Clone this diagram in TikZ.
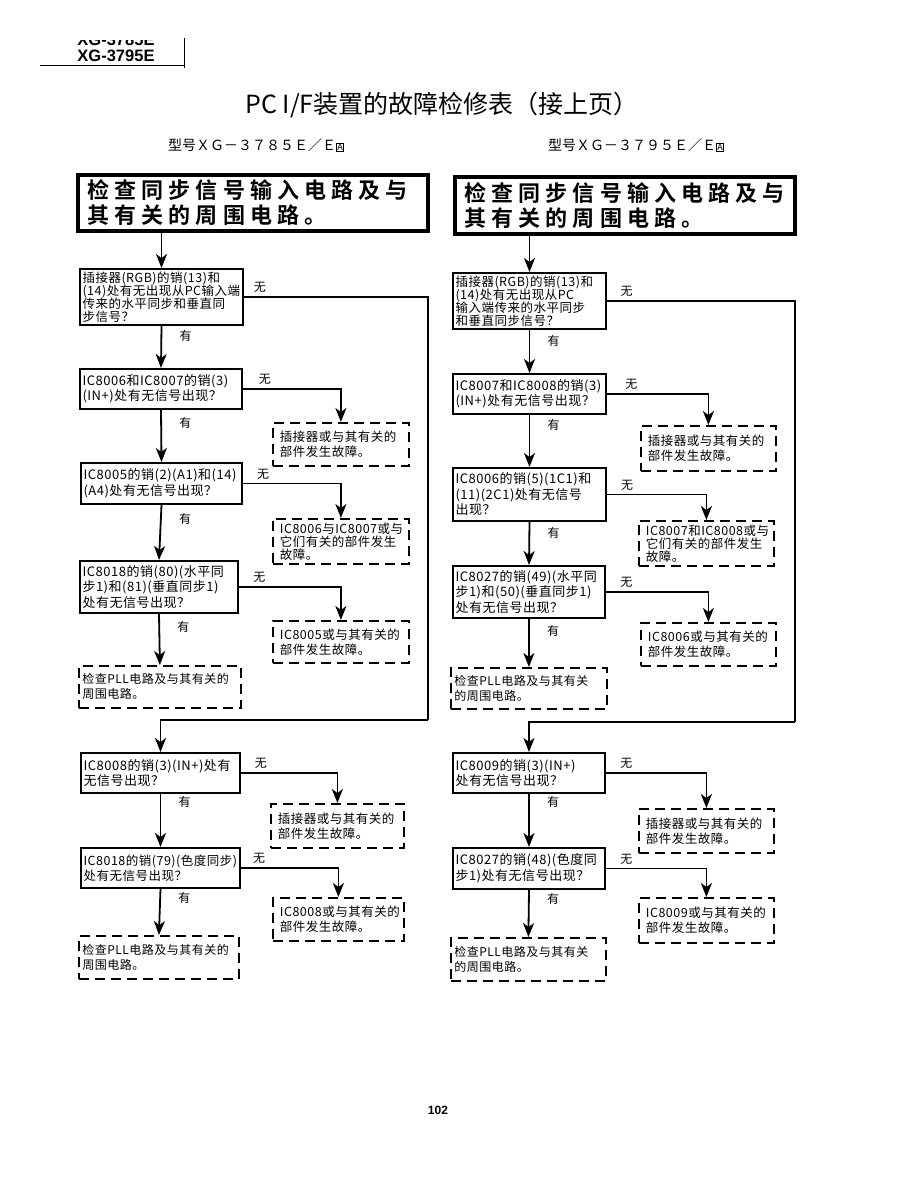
\documentclass[tikz,border=0pt]{standalone}
\usepackage{fontspec}
\setmainfont{Noto Sans CJK SC}
\newfontfamily\bigfont[LetterSpace=23, BoldFont={Noto Sans CJK SC Bold}]{Noto Sans CJK SC}
\newfontfamily\boxfont[LetterSpace=4]{Noto Sans CJK SC}
\newfontfamily\hdfont{Liberation Sans}
\usetikzlibrary{arrows.meta,positioning}

\newcommand{\boxA}{{\setlength\fboxsep{0.6pt}\setlength\fboxrule{0.6pt}\fbox{\fontsize{9}{9}\selectfont A}}}

\begin{document}
\begin{tikzpicture}[
  x=1pt, y=-1pt,
  topbox/.style={draw, line width=3.5pt, anchor=north west, align=left, inner xsep=10pt, inner ysep=5pt, font=\bigfont\bfseries\fontsize{22}{25}\selectfont},
  qbox/.style={draw, line width=2pt, anchor=north west, align=left, inner sep=2.5pt, font=\boxfont\fontsize{13}{15.5}\selectfont},
  fbox/.style={draw, line width=1.8pt, dash pattern=on 10pt off 6pt, anchor=north west, align=left, inner xsep=7pt, inner ysep=4pt, font=\boxfont\fontsize{12.5}{15}\selectfont},
  pllbox/.style={fbox, inner xsep=3.5pt, font=\boxfont\fontsize{12}{15}\selectfont},
  arr/.style={line width=1.8pt, -{Stealth[length=14pt, width=11pt, inset=4pt]}},
  yes/.style={right=14pt, font=\fontsize{12}{12}\selectfont},
  no/.style={above right, font=\fontsize{12}{12}\selectfont},
]
\useasboundingbox (0,0) rectangle (918,1188);

% header
\begin{scope}
  \clip (30,40.5) rectangle (200,75);
  \node[font=\hdfont\bfseries\fontsize{16.5}{18}\selectfont] (hdOld) at (116,40) {XG-3785E};
\end{scope}
\node[font=\hdfont\bfseries\fontsize{16.5}{18}\selectfont] (hdNew) at (116,56) {XG-3795E};
\draw[line width=1pt] (40,66) -- (184,66);
\draw[line width=1pt] (184,38) -- (184,68);

\node[font=\fontsize{25}{28}\selectfont] (title) at (442,105) {PC I/F装置的故障检修表（接上页）};
\node[font=\fontsize{14}{16}\selectfont] (modelL) at (256,145) {型号ＸＧ－３７８５Ｅ／Ｅ\boxA};
\node[font=\fontsize{14}{16}\selectfont] (modelR) at (636,145) {型号ＸＧ－３７９５Ｅ／Ｅ\boxA};

% left column
\node[topbox, text width=330pt, minimum height=55pt] (lTop) at (76,173) {检查同步信号输入电路及与\\其有关的周围电路。};
\node[qbox, text width=158pt, minimum height=55pt, font=\boxfont\fontsize{12.5}{13}\selectfont] (l1) at (79,268) {插接器(RGB)的销(13)和\\(14)处有无出现从PC输入端\\传来的水平同步和垂直同\\步信号？};
\node[qbox, text width=157pt, minimum height=40pt] (l2) at (79,368) {IC8006和IC8007的销(3)\\(IN+)处有无信号出现？};
\node[qbox, text width=156pt, minimum height=41pt] (l3) at (80,462) {IC8005的销(2)(A1)和(14)\\(A4)处有无信号出现？};
\node[qbox, text width=153pt, minimum height=52pt] (l4) at (79,560) {IC8018的销(80)(水平同\\步1)和(81)(垂直同步1)\\处有无信号出现？};
\node[fbox, text width=122pt, minimum height=43pt] (lf2) at (272,422) {插接器或与其有关的\\部件发生故障。};
\node[fbox, text width=122pt, minimum height=45pt, font=\boxfont\fontsize{12.5}{13}\selectfont] (lf3) at (272,518) {IC8006与IC8007或与\\它们有关的部件发生\\故障。};
\node[fbox, text width=122pt, minimum height=42pt] (lf4) at (272,620) {IC8005或与其有关的\\部件发生故障。};
\node[pllbox, text width=155pt, minimum height=42pt] (lp1) at (78,665) {检查PLL电路及与其有关的\\周围电路。};
\node[qbox, text width=154pt, minimum height=40pt] (l5) at (80,752) {IC8008的销(3)(IN+)处有\\无信号出现？};
\node[qbox, text width=154pt, minimum height=40pt, font=\boxfont\fontsize{12.5}{15.5}\selectfont] (l6) at (80,847) {IC8018的销(79)(色度同步)\\处有无信号出现？};
\node[fbox, text width=119pt, minimum height=44pt] (lf5) at (270,803) {插接器或与其有关的\\部件发生故障。};
\node[fbox, text width=117pt, minimum height=43pt] (lf6) at (272,897) {IC8008或与其有关的\\部件发生故障。};
\node[pllbox, text width=153pt, minimum height=43pt] (lp2) at (78,935) {检查PLL电路及与其有关的\\周围电路。};
\coordinate (loopL) at (428,720);

\draw[arr] (lTop.south -| l1.north) -- (l1.north);
\draw[arr] (l1.south) -- node[yes, pos=0.25] {有} (l2.north);
\draw[arr] (l2.south) -- node[yes, pos=0.25] {有} (l3.north);
\draw[arr] (l3.south) -- node[yes, pos=0.25] {有} (l4.north);
\draw[arr] (l4.south) -- node[yes, pos=0.25] {有} (lp1.north);
\draw[arr] (l5.south) -- node[yes, pos=0.15] {有} (l6.north);
\draw[arr] (l6.south) -- node[yes, pos=0.2] {有} (lp2.north);
\draw[line width=1.8pt] (l1.east) -- node[no, pos=0.03] {无} (l1.east -| loopL) -- (loopL);
\draw[arr] (loopL) -| (l5.north);
\draw[arr] (l2.east) -| node[no, pos=0.06] {无} (lf2.north);
\draw[arr] (l3.east) -| node[no, pos=0.05] {无} (lf3.north);
\draw[arr] (l4.east) -| node[no, pos=0.05] {无} (lf4.north);
\draw[arr] (l5.east) -| node[no, pos=0.05] {无} (lf5.north);
\draw[arr] (l6.east) -| node[no, pos=0.04] {无} (lf6.north);

% right column
\node[topbox, text width=320pt, minimum height=57pt] (rTop) at (453,175) {检查同步信号输入电路及与\\其有关的周围电路。};
\node[qbox, text width=148pt, minimum height=55pt, font=\boxfont\fontsize{12.5}{13}\selectfont] (r1) at (452,272) {插接器(RGB)的销(13)和\\(14)处有无出现从PC\\输入端传来的水平同步\\和垂直同步信号？};
\node[qbox, text width=148pt, minimum height=40pt] (r2) at (452,373) {IC8007和IC8008的销(3)\\(IN+)处有无信号出现？};
\node[qbox, text width=148pt, minimum height=53pt] (r3) at (452,467) {IC8006的销(5)(1C1)和\\(11)(2C1)处有无信号\\出现？};
\node[qbox, text width=147pt, minimum height=52pt] (r4) at (452,565) {IC8027的销(49)(水平同\\步1)和(50)(垂直同步1)\\处有无信号出现？};
\node[fbox, text width=121pt, minimum height=45pt] (rf2) at (640,425) {插接器或与其有关的\\部件发生故障。};
\node[fbox, text width=121pt, minimum height=45pt, font=\boxfont\fontsize{12.5}{13}\selectfont] (rf3) at (638,520) {IC8007和IC8008或与\\它们有关的部件发生\\故障。};
\node[fbox, text width=121pt, minimum height=43pt] (rf4) at (640,622) {IC8006或与其有关的\\部件发生故障。};
\node[pllbox, text width=149pt, minimum height=41pt] (rp1) at (450,667) {检查PLL电路及与其有关\\的周围电路。};
\node[qbox, text width=147pt, minimum height=40pt] (r5) at (452,752) {IC8009的销(3)(IN+)\\处有无信号出现？};
\node[qbox, text width=147pt, minimum height=41pt] (r6) at (452,847) {IC8027的销(48)(色度同\\步1)处有无信号出现？};
\node[fbox, text width=121pt, minimum height=44pt] (rf5) at (638,808) {插接器或与其有关的\\部件发生故障。};
\node[fbox, text width=121pt, minimum height=45pt] (rf6) at (638,897) {IC8009或与其有关的\\部件发生故障。};
\node[pllbox, text width=148pt, minimum height=43pt] (rp2) at (450,937) {检查PLL电路及与其有关\\的周围电路。};
\coordinate (loopR) at (795,722);

\draw[arr] (rTop.south -| r1.north) -- (r1.north);
\draw[arr] (r1.south) -- node[yes, pos=0.25] {有} (r2.north);
\draw[arr] (r2.south) -- node[yes, pos=0.2] {有} (r3.north);
\draw[arr] (r3.south) -- node[yes, pos=0.25] {有} (r4.north);
\draw[arr] (r4.south) -- node[yes, pos=0.25] {有} (rp1.north);
\draw[arr] (r5.south) -- node[yes, pos=0.15] {有} (r6.north);
\draw[arr] (r6.south) -- node[yes, pos=0.2] {有} (rp2.north);
\draw[line width=1.8pt] (r1.east) -- node[no, pos=0.05] {无} (r1.east -| loopR) -- (loopR);
\draw[arr] (loopR) -| (r5.north);
\draw[arr] (r2.east) -| node[no, pos=0.07] {无} (rf2.north);
\draw[arr] (r3.east) -| node[no, pos=0.05] {无} (rf3.north);
\draw[arr] (r4.east) -| node[no, pos=0.05] {无} (rf4.north);
\draw[arr] (r5.east) -| node[no, pos=0.05] {无} (rf5.north);
\draw[arr] (r6.east) -| node[no, pos=0.05] {无} (rf6.north);

\node[font=\hdfont\bfseries\fontsize{12}{14}\selectfont] (pageno) at (438,1110) {102};
\end{tikzpicture}
\end{document}
